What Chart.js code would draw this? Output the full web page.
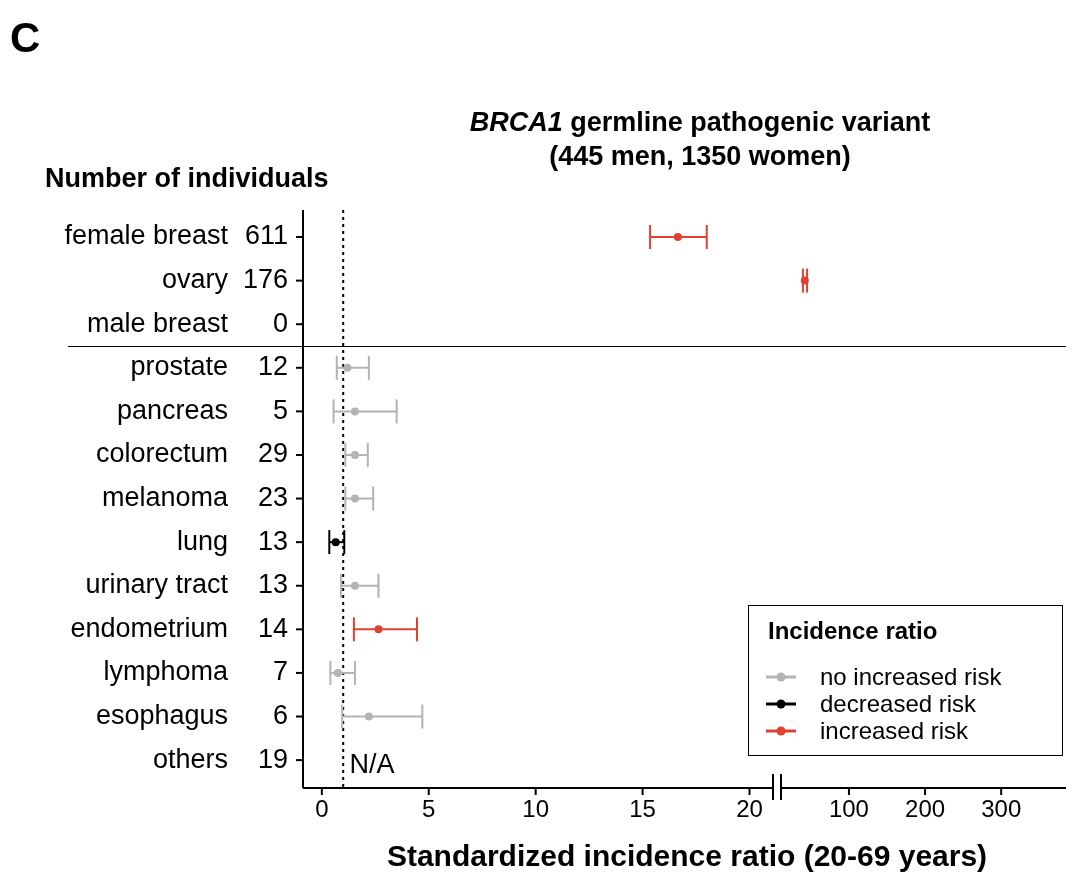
<!DOCTYPE html>
<html><head><meta charset="utf-8">
<script src="https://cdn.jsdelivr.net/npm/chart.js@4.4.0/dist/chart.umd.min.js"></script>
<style>html,body{margin:0;padding:0;background:#fff}#wrap{width:1080px;height:885px}</style>
</head><body><div id="wrap"><canvas id="c"></canvas></div>
<script>
// Data
const sites = ['female breast','ovary','male breast','prostate','pancreas','colorectum','melanoma','lung','urinary tract','endometrium','lymphoma','esophagus','others'];
const counts = [611,176,0,12,5,29,23,13,13,14,7,6,19];
const sir = [16.65,42,null,1.2,1.55,1.55,1.55,0.65,1.55,2.65,0.75,2.2,null];
const ciLow = [15.35,39.5,null,0.7,0.55,1.1,1.1,0.35,0.9,1.5,0.4,0.95,null];
const ciHigh = [18.0,45,null,2.2,3.5,2.15,2.4,1.05,2.65,4.45,1.55,4.7,null];
const risk = ['inc','inc',null,'no','no','no','no','dec','no','inc','no','no',null];
const xTicks = [0,5,10,15,20,100,200,300];

const colors = {no:'#b3b3b3', dec:'#000000', inc:'#e0402f'};
const FONT = '"Liberation Sans", Arial, sans-serif';

// broken axis: linear up to 20, compressed above
function toAxis(v) { return v <= 20 ? v : 24.65 + (v - 100) * 0.0356; }

const datasets = [];
sites.forEach((s, i) => {
    if (sir[i] === null) return;
    const col = colors[risk[i]];
    datasets.push({
        data: [{x: toAxis(ciLow[i]), y: i}, {x: toAxis(ciHigh[i]), y: i}],
        showLine: true, borderColor: col, borderWidth: 2,
        pointStyle: 'line', rotation: 90, pointRadius: 12, pointBorderColor: col, pointBorderWidth: 2
    });
    datasets.push({
        data: [{x: toAxis(sir[i]), y: i}],
        pointRadius: 4, pointBackgroundColor: col, pointBorderColor: col, borderWidth: 0
    });
});

const decor = {
    id: 'decor',
    beforeDatasetsDraw(chart) {
        const ctx = chart.ctx, xs = chart.scales.x, ys = chart.scales.y, a = chart.chartArea;
        ctx.save();
        // dotted reference line at SIR 1
        ctx.setLineDash([3, 4]); ctx.strokeStyle = '#000'; ctx.lineWidth = 2;
        ctx.beginPath(); ctx.moveTo(xs.getPixelForValue(1), a.top); ctx.lineTo(xs.getPixelForValue(1), a.bottom); ctx.stroke();
        ctx.setLineDash([]);
        // separator
        ctx.lineWidth = 1;
        const sy = Math.round(ys.getPixelForValue(2.5)) + 0.5;
        ctx.beginPath(); ctx.moveTo(a.left - 235, sy); ctx.lineTo(a.right, sy); ctx.stroke();
        ctx.restore();
    },
    afterDraw(chart) {
        const ctx = chart.ctx, xs = chart.scales.x, ys = chart.scales.y, a = chart.chartArea;
        ctx.save();
        ctx.strokeStyle = '#000'; ctx.fillStyle = '#000'; ctx.lineWidth = 2;
        // axes
        ctx.beginPath(); ctx.moveTo(a.left, a.top); ctx.lineTo(a.left, a.bottom); ctx.stroke();
        const b1 = 773, b2 = 781;
        ctx.beginPath(); ctx.moveTo(a.left, a.bottom); ctx.lineTo(b1, a.bottom);
        ctx.moveTo(b2, a.bottom); ctx.lineTo(a.right, a.bottom); ctx.stroke();
        ctx.beginPath(); ctx.moveTo(b1, a.bottom - 14); ctx.lineTo(b1, a.bottom + 12);
        ctx.moveTo(b2, a.bottom - 14); ctx.lineTo(b2, a.bottom + 12); ctx.stroke();
        // x ticks
        ctx.font = '24px ' + FONT; ctx.textAlign = 'center'; ctx.textBaseline = 'top';
        xTicks.forEach(t => {
            const px = xs.getPixelForValue(toAxis(t));
            ctx.beginPath(); ctx.moveTo(px, a.bottom); ctx.lineTo(px, a.bottom + 7); ctx.stroke();
            ctx.fillText(String(t), px, a.bottom + 10);
        });
        // y labels
        ctx.font = '27px ' + FONT; ctx.textBaseline = 'middle';
        sites.forEach((s, i) => {
            const py = ys.getPixelForValue(i);
            ctx.beginPath(); ctx.moveTo(a.left - 7, py); ctx.lineTo(a.left, py); ctx.stroke();
            ctx.textAlign = 'right';
            ctx.fillText(s, 228, py);
            ctx.fillText(String(counts[i]), 288, py);
        });
        ctx.textAlign = 'left';
        ctx.fillText('N/A', xs.getPixelForValue(1.3), ys.getPixelForValue(12) + 5);
        // titles
        ctx.font = 'bold 42px ' + FONT; ctx.fillText('C', 10, 40);
        ctx.font = 'bold 27px ' + FONT; ctx.fillText('Number of individuals', 45, 180);
        ctx.textAlign = 'center';
        ctx.fillText('(445 men, 1350 women)', 700, 158);
        const t1 = 'BRCA1', t2 = ' germline pathogenic variant';
        ctx.font = 'italic bold 27px ' + FONT; const w1 = ctx.measureText(t1).width;
        ctx.font = 'bold 27px ' + FONT; const w2 = ctx.measureText(t2).width;
        let sx = 700 - (w1 + w2) / 2;
        ctx.textAlign = 'left';
        ctx.font = 'italic bold 27px ' + FONT; ctx.fillText(t1, sx, 124);
        ctx.font = 'bold 27px ' + FONT; ctx.fillText(t2, sx + w1, 124);
        ctx.font = 'bold 30px ' + FONT; ctx.textAlign = 'center';
        ctx.fillText('Standardized incidence ratio (20-69 years)', 687, 858);
        // legend
        ctx.lineWidth = 1; ctx.strokeRect(748.5, 605.5, 314, 150);
        ctx.textAlign = 'left'; ctx.font = 'bold 24px ' + FONT;
        ctx.fillText('Incidence ratio', 768, 632);
        ctx.font = '24px ' + FONT;
        [['no', 'no increased risk', 677], ['dec', 'decreased risk', 704], ['inc', 'increased risk', 731]].forEach(([k, lab, y]) => {
            ctx.strokeStyle = colors[k]; ctx.fillStyle = colors[k]; ctx.lineWidth = 3;
            ctx.beginPath(); ctx.moveTo(766, y); ctx.lineTo(796, y); ctx.stroke();
            ctx.beginPath(); ctx.arc(781, y, 4.5, 0, Math.PI * 2); ctx.fill();
            ctx.fillStyle = '#000'; ctx.fillText(lab, 820, y + 1);
        });
        ctx.restore();
    }
};

new Chart(document.getElementById('c'), {
    type: 'scatter',
    data: {datasets},
    options: {
        responsive: true, maintainAspectRatio: false, animation: false,
        layout: {padding: {left: 303, right: 10, top: 210, bottom: 97}},
        plugins: {legend: {display: false}, tooltip: {enabled: false}},
        scales: {
            x: {type: 'linear', min: -0.88, max: 34.8, display: false},
            y: {type: 'linear', reverse: true, min: -0.62, max: 12.64, display: false}
        }
    },
    plugins: [decor]
});
</script></body></html>
